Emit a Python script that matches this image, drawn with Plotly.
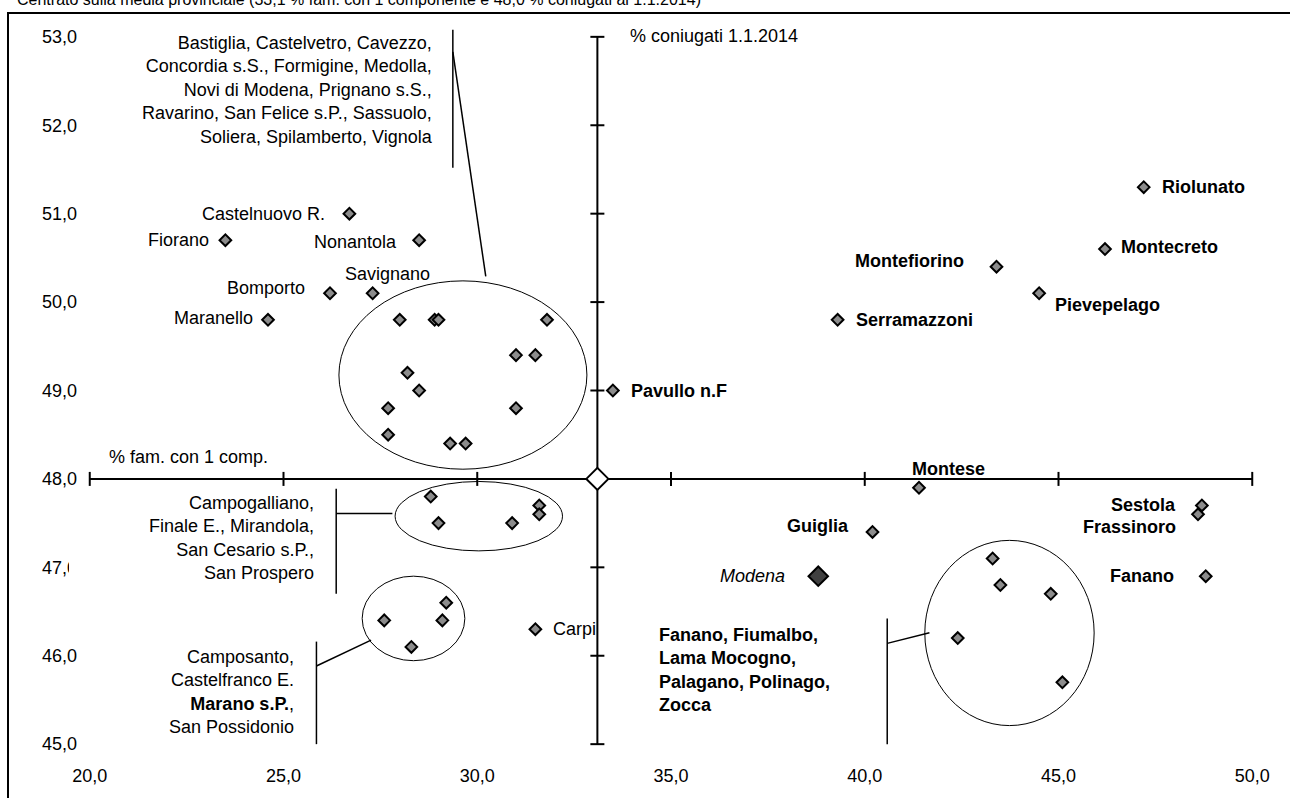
import plotly.graph_objects as go

# media provinciale (incrocio degli assi)
media_fam = 33.1
media_coniugati = 48.0

# comuni con etichetta propria
comuni = ["Castelnuovo R.", "Fiorano", "Nonantola", "Savignano", "Bomporto", "Maranello",
          "Carpi", "Pavullo n.F", "Serramazzoni", "Montefiorino", "Pievepelago", "Montecreto",
          "Riolunato", "Montese", "Guiglia", "Sestola", "Frassinoro", "Fanano"]
fam_1comp = [26.7, 23.5, 28.5, 27.3, 26.2, 24.6,
             31.5, 33.5, 39.3, 43.4, 44.5, 46.2,
             47.2, 41.4, 40.2, 48.7, 48.6, 48.8]
coniugati = [51.0, 50.7, 50.7, 50.1, 50.1, 49.8,
             46.3, 49.0, 49.8, 50.4, 50.1, 50.6,
             51.3, 47.9, 47.4, 47.7, 47.6, 46.9]
montani = {"Pavullo n.F", "Serramazzoni", "Montefiorino", "Pievepelago", "Montecreto",
           "Riolunato", "Montese", "Guiglia", "Sestola", "Frassinoro", "Fanano"}

# capoluogo
modena_fam = 38.8
modena_coniugati = 46.9

# gruppi nelle ellissi
gruppo1_fam = [28.0, 28.9, 29.0, 31.8, 31.0, 31.5, 28.2, 28.5, 27.7, 31.0, 27.7, 29.3, 29.7]
gruppo1_con = [49.8, 49.8, 49.8, 49.8, 49.4, 49.4, 49.2, 49.0, 48.8, 48.8, 48.5, 48.4, 48.4]
gruppo2_fam = [28.8, 29.0, 30.9, 31.6, 31.6]
gruppo2_con = [47.8, 47.5, 47.5, 47.7, 47.6]
gruppo3_fam = [27.6, 29.2, 29.1, 28.3]
gruppo3_con = [46.4, 46.6, 46.4, 46.1]
gruppo4_fam = [43.3, 43.5, 44.8, 42.4, 45.1]
gruppo4_con = [47.1, 46.8, 46.7, 46.2, 45.7]

gruppo1_testo = ["Bastiglia, Castelvetro, Cavezzo,", "Concordia s.S., Formigine, Medolla,",
                 "Novi di Modena, Prignano s.S.,", "Ravarino, San Felice s.P., Sassuolo,",
                 "Soliera, Spilamberto, Vignola"]
gruppo2_testo = ["Campogalliano,", "Finale E., Mirandola,", "San Cesario s.P.,", "San Prospero"]
gruppo3_testo = ["Camposanto,", "Castelfranco E.", "<b>Marano s.P.</b>,", "San Possidonio"]
gruppo4_testo = ["Fanano, Fiumalbo,", "Lama Mocogno,", "Palagano, Polinago,", "Zocca"]

x_ticks = [20, 25, 30, 35, 40, 45, 50]
y_ticks = [45, 46, 47, 48, 49, 50, 51, 52, 53]

titolo = "Centrato sulla media provinciale (33,1 % fam. con 1 componente e 48,0 % coniugati al 1.1.2014)"

FONT = "Liberation Sans, Arial, sans-serif"
W, H = 1290, 798
ML, MR, MT, MB = 82, 30, 28, 43

def px_x(p):
    return (p - ML) / (W - ML - MR)

def px_y(p):
    return (H - MB - p) / (H - MT - MB)

# posizione etichette: ancoraggio, spostamento x, spostamento y (pixel)
label_pos = {
    "Castelnuovo R.": ("right", -22, 0), "Fiorano": ("right", -14, 0),
    "Nonantola": ("right", -20, -2), "Savignano": ("center", 15, 19),
    "Bomporto": ("right", -23, 5), "Maranello": ("right", -13, 2),
    "Carpi": ("left", 16, 0), "Pavullo n.F": ("left", 16, 0),
    "Serramazzoni": ("left", 16, 0), "Montefiorino": ("right", -31, 6),
    "Pievepelago": ("left", 14, -12), "Montecreto": ("left", 14, 2),
    "Riolunato": ("left", 16, 0), "Montese": ("center", 29, 19),
    "Guiglia": ("right", -22, 6), "Sestola": ("right", -24, 0),
    "Frassinoro": ("right", -20, -13), "Fanano": ("right", -30, 0),
}

fig = go.Figure()

marker_std = dict(symbol="diamond", size=9, color="#8c8c8c", line=dict(color="black", width=2))
for xs, ys in [(gruppo1_fam, gruppo1_con), (gruppo2_fam, gruppo2_con),
               (gruppo3_fam, gruppo3_con), (gruppo4_fam, gruppo4_con), (fam_1comp, coniugati)]:
    fig.add_trace(go.Scatter(x=xs, y=ys, mode="markers", marker=marker_std,
                             showlegend=False, hoverinfo="x+y"))
fig.add_trace(go.Scatter(x=[modena_fam], y=[modena_coniugati], mode="markers",
                         marker=dict(symbol="diamond", size=15, color="#404040",
                                     line=dict(color="black", width=2)), showlegend=False))
fig.add_trace(go.Scatter(x=[media_fam], y=[media_coniugati], mode="markers",
                         marker=dict(symbol="diamond", size=17, color="white",
                                     line=dict(color="black", width=2)), showlegend=False))

shapes = []
# assi centrati sulla media
shapes.append(dict(type="line", x0=x_ticks[0], x1=x_ticks[-1], y0=media_coniugati, y1=media_coniugati,
                   line=dict(color="black", width=2), layer="below"))
shapes.append(dict(type="line", x0=media_fam, x1=media_fam, y0=y_ticks[0], y1=y_ticks[-1],
                   line=dict(color="black", width=2), layer="below"))
for t in x_ticks:
    shapes.append(dict(type="line", xref="x", yref="y", x0=t, x1=t, ysizemode="pixel",
                       yanchor=media_coniugati, y0=-7, y1=7, line=dict(color="black", width=2),
                       layer="below"))
for t in y_ticks:
    shapes.append(dict(type="line", xref="x", yref="y", y0=t, y1=t, xsizemode="pixel",
                       xanchor=media_fam, x0=-7, x1=7, line=dict(color="black", width=2),
                       layer="below"))

# ellissi dei gruppi
thin = dict(color="black", width=1)
for x0, x1, y0, y1 in [(26.43, 32.83, 48.11, 50.24), (27.88, 32.2, 47.186, 47.971),
                       (27.03, 29.68, 45.944, 46.90), (41.55, 45.92, 45.21, 47.305)]:
    shapes.append(dict(type="circle", x0=x0, x1=x1, y0=y0, y1=y1, line=thin, layer="below"))

# linee di richiamo
lead = dict(color="black", width=1.5)
for x0, y0, x1, y1 in [(29.37, 53.08, 29.37, 51.52), (29.37, 52.83, 30.22, 50.29),
                       (26.36, 47.89, 26.36, 46.70), (26.36, 47.61, 27.81, 47.61),
                       (25.85, 46.16, 25.85, 45.0), (25.85, 45.884, 27.26, 46.177),
                       (40.58, 46.42, 40.58, 45.0), (40.58, 46.14, 41.67, 46.26)]:
    shapes.append(dict(type="line", x0=x0, y0=y0, x1=x1, y1=y1, line=lead, layer="below"))

# cornice e copertura etichetta tagliata
shapes.append(dict(type="rect", xref="paper", yref="paper", x0=px_x(8), x1=1.06, y0=-0.1,
                   y1=px_y(13), line=dict(color="black", width=2), layer="above"))
shapes.append(dict(type="rect", xref="paper", yref="paper", x0=px_x(69), x1=px_x(80),
                   y0=px_y(578), y1=px_y(558), fillcolor="white", line=dict(width=0),
                   layer="above"))

annotations = []
for name, xv, yv in zip(comuni, fam_1comp, coniugati):
    anchor, dx, dy = label_pos[name]
    txt = f"<b>{name}</b>" if name in montani else name
    annotations.append(dict(x=xv, y=yv, text=txt, showarrow=False, xanchor=anchor,
                            yanchor="middle", xshift=dx, yshift=dy))
annotations.append(dict(x=modena_fam, y=modena_coniugati, text="<i>Modena</i>", showarrow=False,
                        xanchor="right", xshift=-31))
annotations.append(dict(x=media_fam, y=y_ticks[-1], text="% coniugati 1.1.2014", showarrow=False,
                        xanchor="left", xshift=31, yshift=1))
annotations.append(dict(x=x_ticks[0], y=media_coniugati, text="% fam. con 1 comp.", showarrow=False,
                        xanchor="left", xshift=17, yshift=22))
annotations.append(dict(x=28.91, y=52.40, text="<br>".join(gruppo1_testo), showarrow=False,
                        xanchor="right", align="right"))
annotations.append(dict(x=25.83, y=47.33, text="<br>".join(gruppo2_testo), showarrow=False,
                        xanchor="right", align="right"))
annotations.append(dict(x=25.32, y=45.595, text="<br>".join(gruppo3_testo), showarrow=False,
                        xanchor="right", align="right"))
annotations.append(dict(x=34.645, y=45.837, text="<b>" + "<br>".join(gruppo4_testo) + "</b>",
                        showarrow=False, xanchor="left", align="left"))
annotations.append(dict(xref="paper", yref="paper", x=px_x(15), y=px_y(-1), text=titolo,
                        showarrow=False, xanchor="left", yanchor="middle", font=dict(size=16)))

fig.update_layout(
    width=W, height=H,
    margin=dict(l=ML, r=MR, t=MT, b=MB),
    paper_bgcolor="white", plot_bgcolor="white",
    font=dict(family=FONT, size=18, color="black"),
    separators=",.",
    shapes=shapes, annotations=annotations,
    xaxis=dict(range=[19.8, 50.2], tickvals=x_ticks, tickformat=".1f", showgrid=False,
               zeroline=False, showline=False, ticks="", ticklabelstandoff=10),
    yaxis=dict(range=[44.9, 53.1], tickvals=y_ticks, tickformat=".1f", showgrid=False,
               zeroline=False, showline=False, ticks="", ticklabelstandoff=4),
)

# la pagina senza margini, così il grafico parte dall'angolo in alto a sinistra
fig.write_html("out.html", config={"displayModeBar": False},
               post_script="document.body.style.margin='0';")
